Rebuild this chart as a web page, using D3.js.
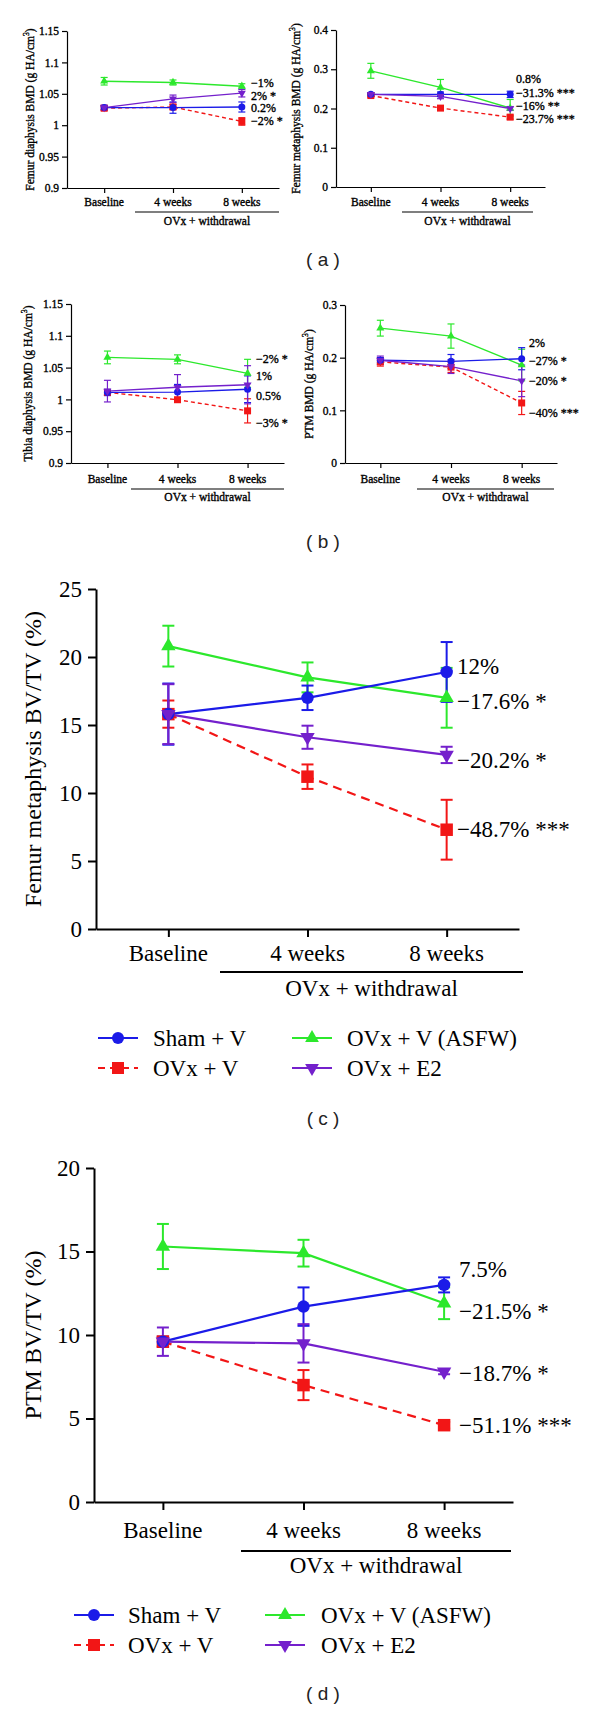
<!DOCTYPE html>
<html><head><meta charset="utf-8">
<script src="https://cdn.jsdelivr.net/npm/d3@7"></script>
<style>body{margin:0;background:#fff}svg{display:block}</style>
</head><body>
<svg id="fig" width="600" height="1709"></svg>
<script>
// ---------- DATA ----------
const timepoints = ["Baseline", "4 weeks", "8 weeks"];
// series order: Sham + V, OVx + V, OVx + V (ASFW), OVx + E2
const groups = ["Sham + V", "OVx + V", "OVx + V (ASFW)", "OVx + E2"];
const groupLabel = "OVx + withdrawal";

// (a) left: femur diaphysis BMD
const femurDiaTicks = [0.9, 0.95, 1, 1.05, 1.1, 1.15];
const femurDiaMeans = [[1.028, 1.028, 1.029], [1.027, 1.029, 1.006], [1.070, 1.068, 1.062], [1.028, 1.042, 1.051]];
const femurDiaErrs  = [[0.003, 0.009, 0.008], [0.003, 0.004, 0.006], [0.006, 0.004, 0.004], [0.004, 0.006, 0.006]];
const femurDiaLabels = ["\u22121%", "2% *", "0.2%", "\u22122% *"];
const femurDiaLabelY = [1.067, 1.046, 1.027, 1.007];

// (a) right: femur metaphysis BMD
const femurMetTicks = [0, 0.1, 0.2, 0.3, 0.4];
const femurMetMeans = [[0.236, 0.236, 0.236], [0.233, 0.201, 0.178], [0.296, 0.254, 0.201], [0.236, 0.231, 0.200]];
const femurMetErrs  = [[0.004, 0.006, 0.008], [0.004, 0.004, 0.005], [0.019, 0.020, 0.022], [0.004, 0.006, 0.005]];
const femurMetLabels = ["0.8%", "\u221231.3% ***", "\u221216% **", "\u221223.7% ***"];
const femurMetLabelY = [0.275, 0.2395, 0.206, 0.173];

// (b) left: tibia diaphysis BMD
const tibiaDiaTicks = [0.9, 0.95, 1, 1.05, 1.1, 1.15];
const tibiaDiaMeans = [[1.011, 1.0115, 1.016], [1.011, 0.9995, 0.982], [1.066, 1.063, 1.041], [1.013, 1.019, 1.023]];
const tibiaDiaErrs  = [[0.005, 0.012, 0.021], [0.004, 0.003, 0.019], [0.010, 0.007, 0.022], [0.017, 0.020, 0.030]];
const tibiaDiaLabels = ["\u22122% *", "1%", "0.5%", "\u22123% *"];
const tibiaDiaLabelY = [1.0635, 1.037, 1.005, 0.963];

// (b) right: PTM BMD
const ptmBmdTicks = [0, 0.1, 0.2, 0.3];
const ptmBmdMeans = [[0.195, 0.193, 0.198], [0.192, 0.182, 0.114], [0.256, 0.241, 0.186], [0.195, 0.183, 0.156]];
const ptmBmdErrs  = [[0.005, 0.013, 0.021], [0.008, 0.010, 0.022], [0.015, 0.023, 0.030], [0.008, 0.013, 0.030]];
const ptmBmdLabels = ["2%", "\u221227% *", "\u221220% *", "\u221240% ***"];
const ptmBmdLabelY = [0.228, 0.194, 0.156, 0.095];

// (c) femur metaphysis BV/TV
const femurBvTicks = [0, 5, 10, 15, 20, 25];
const femurBvMeans = [[15.8, 17.0, 18.9], [15.8, 11.2, 7.3], [20.8, 18.5, 17.0], [15.8, 14.1, 12.8]];
const femurBvErrs  = [[2.25, 0.9, 2.2], [1.0, 0.9, 2.2], [1.5, 1.1, 2.2], [2.2, 0.85, 0.6]];
const femurBvLabels = ["12%", "\u221217.6% *", "\u221220.2% *", "\u221248.7% ***"];
const femurBvLabelY = [19.3, 16.7, 12.4, 7.3];

// (d) PTM BV/TV
const ptmBvTicks = [0, 5, 10, 15, 20];
const ptmBvMeans = [[9.6, 11.7, 13.0], [9.6, 7.0, 4.6], [15.3, 14.9, 11.9], [9.6, 9.5, 7.8]];
const ptmBvErrs  = [[0.3, 1.15, 0.45], [0.3, 0.9, 0.2], [1.35, 0.8, 0.95], [0.85, 1.15, 0.15]];
const ptmBvLabels = ["7.5%", "\u221221.5% *", "\u221218.7% *", "\u221251.1% ***"];
const ptmBvLabelY = [13.9, 11.4, 7.7, 4.6];

// ---------- STYLE ----------
const colors = ["#1b1be8", "#f21616", "#2ce82c", "#7420cc"];
const shapes = ["circle", "square", "triangle", "down"];
const dashed = [false, true, false, false];
const drawOrder = [2, 1, 0, 3];
const serif = "'Liberation Serif', 'Times New Roman', serif";
const sans = "'Liberation Sans', Arial, sans-serif";

const svg = d3.select("#fig");

function symbolPath(shape, s) {
  if (shape === "circle") return d3.symbol(d3.symbolCircle, Math.PI * (s / 2) * (s / 2))();
  if (shape === "square") return d3.symbol(d3.symbolSquare, s * s)();
  const side = s * 1.15;
  return d3.symbol(d3.symbolTriangle, Math.sqrt(3) / 4 * side * side)();
}
function addMarker(g, shape, cx, cy, s, color) {
  g.append("path").attr("d", symbolPath(shape, s))
    .attr("transform", `translate(${cx},${cy})` + (shape === "down" ? " rotate(180)" : ""))
    .attr("fill", color).attr("stroke", "none");
}
function heavy(sel, L) {
  if (L.textStroke) sel.attr("stroke", "#000").attr("stroke-width", L.textStroke);
  return sel;
}

function drawPanel(L, D) {
  const g = svg.append("g");
  const x = d3.scalePoint().domain(timepoints).range([L.x0, L.x1]).padding(L.pad);
  const y = d3.scaleLinear().domain([D.ticks[0], D.ticks[D.ticks.length - 1]]).range([L.yBot, L.yTop]);

  const ya = g.append("g").attr("transform", `translate(${L.x0},0)`)
    .call(d3.axisLeft(y).tickValues(D.ticks).tickFormat(d => String(d))
      .tickSize(L.tick).tickSizeOuter(0).tickPadding(L.tickPad));
  ya.attr("font-family", serif).attr("font-size", L.tickFont);
  heavy(ya.selectAll("text").attr("fill", "#000"), L);

  g.append("g").attr("transform", `translate(0,${L.yBot})`)
    .call(d3.axisBottom(x).tickSize(L.tick).tickSizeOuter(0).tickFormat(""));
  g.selectAll(".domain, .tick line").attr("stroke", "#000").attr("stroke-width", L.axW);

  heavy(g.selectAll("text.xl").data(timepoints).join("text").attr("class", "xl")
    .attr("x", d => x(d)).attr("y", L.xlabY)
    .attr("text-anchor", "middle").attr("dominant-baseline", "central")
    .attr("font-family", serif).attr("font-size", L.tickFont).text(d => d), L);

  // bracket + group label
  const bx1 = L.brX1 || L.x1;
  g.append("line").attr("x1", L.brX0).attr("x2", bx1).attr("y1", L.brY).attr("y2", L.brY)
    .attr("stroke", "#000").attr("stroke-width", L.axW);
  heavy(g.append("text").attr("x", (L.brX0 + bx1) / 2).attr("y", L.grpY)
    .attr("text-anchor", "middle").attr("dominant-baseline", "central")
    .attr("font-family", serif).attr("font-size", L.tickFont).text(groupLabel), L);

  // y title
  const t = heavy(g.append("text")
    .attr("transform", `translate(${L.titleX},${(L.yTop + L.yBot) / 2}) rotate(-90)`)
    .attr("text-anchor", "middle").attr("dominant-baseline", "central")
    .attr("font-family", serif).attr("font-size", L.titleFont), L);
  t.append("tspan").text(D.title);
  if (D.sup) {
    t.append("tspan").attr("dy", -L.titleFont * 0.38).attr("font-size", L.titleFont * 0.68).text("3");
    t.append("tspan").attr("dy", L.titleFont * 0.38).text(")");
  }

  // lines
  drawOrder.forEach(i => {
    const pts = D.means[i].map((v, j) => [x(timepoints[j]), y(v)]);
    g.append("path").attr("d", d3.line()(pts)).attr("fill", "none")
      .attr("stroke", colors[i]).attr("stroke-width", L.lw)
      .attr("stroke-dasharray", dashed[i] ? L.dash : null);
  });
  // error bars
  drawOrder.forEach(i => {
    D.means[i].forEach((v, j) => {
      const cx = x(timepoints[j]);
      const e = D.errs[i][j];
      const yt = y(v + e), yb = y(v - e);
      const c = colors[i];
      g.append("line").attr("x1", cx).attr("x2", cx).attr("y1", yt).attr("y2", yb)
        .attr("stroke", c).attr("stroke-width", L.ew);
      [yt, yb].forEach(yy => g.append("line").attr("x1", cx - L.cap / 2).attr("x2", cx + L.cap / 2)
        .attr("y1", yy).attr("y2", yy).attr("stroke", c).attr("stroke-width", L.ew));
    });
  });
  // markers
  drawOrder.forEach(i => {
    D.means[i].forEach((v, j) => addMarker(g, shapes[i], x(timepoints[j]), y(v), L.ms, colors[i]));
  });

  // percent labels
  D.labels.forEach((s, k) => {
    heavy(g.append("text").attr("x", L.labelX).attr("y", y(D.labelY[k]))
      .attr("dominant-baseline", "central").attr("font-family", serif)
      .attr("font-size", L.labelFont).attr("fill", "#000").text(s), L);
  });
}

function drawLegend(Lg) {
  const pos = [[0, 0], [0, 1], [1, 0], [1, 1]];
  groups.forEach((name, i) => {
    const [c, r] = pos[i];
    const lx = Lg.colX[c], ly = Lg.rowY[r];
    svg.append("line").attr("x1", lx).attr("x2", lx + Lg.len).attr("y1", ly).attr("y2", ly)
      .attr("stroke", colors[i]).attr("stroke-width", Lg.lw)
      .attr("stroke-dasharray", dashed[i] ? Lg.dash : null);
    addMarker(svg, shapes[i], lx + Lg.len / 2, ly, Lg.ms, colors[i]);
    svg.append("text").attr("x", Lg.textX[c]).attr("y", ly).attr("dominant-baseline", "central")
      .attr("font-family", serif).attr("font-size", Lg.font).text(name);
  });
}

function panelTag(txt, cy) {
  svg.append("text").attr("x", 323).attr("y", cy).attr("text-anchor", "middle")
    .attr("dominant-baseline", "central").attr("font-family", sans)
    .attr("font-size", 19).attr("fill", "#222").attr("xml:space", "preserve").text(txt);
}

// ---------- LAYOUT ----------
const small = {tick: 5, tickPad: 3, tickFont: 11.5, titleFont: 11.5, labelFont: 12, axW: 1.2,
  lw: 1.4, ew: 1.2, cap: 7, ms: 7, dash: "4,3", textStroke: 0.35};
const big = {tick: 8, tickPad: 6, tickFont: 23, titleFont: 24, labelFont: 23, axW: 2,
  lw: 2.2, ew: 2, cap: 12, ms: 12.5, dash: "9,6", textStroke: 0};

drawPanel(Object.assign({}, small, {x0: 67, x1: 279, pad: 0.54, yTop: 31, yBot: 188, titleX: 30,
  labelX: 251, xlabY: 202, brX0: 135, brY: 212, grpY: 221}),
  {ticks: femurDiaTicks, means: femurDiaMeans, errs: femurDiaErrs, labels: femurDiaLabels,
   labelY: femurDiaLabelY, title: "Femur diaphysis BMD (g HA/cm", sup: true});
drawPanel(Object.assign({}, small, {x0: 336, x1: 545, pad: 0.5, yTop: 30, yBot: 187, titleX: 296,
  labelX: 516, xlabY: 202, brX0: 402, brX1: 533, brY: 212, grpY: 221}),
  {ticks: femurMetTicks, means: femurMetMeans, errs: femurMetErrs, labels: femurMetLabels,
   labelY: femurMetLabelY, title: "Femur metaphysis BMD (g HA/cm", sup: true});
panelTag("( a )", 259);

drawPanel(Object.assign({}, small, {x0: 71, x1: 284, pad: 0.52, yTop: 304, yBot: 463, titleX: 28,
  labelX: 256, xlabY: 479, brX0: 131, brY: 489, grpY: 497}),
  {ticks: tibiaDiaTicks, means: tibiaDiaMeans, errs: tibiaDiaErrs, labels: tibiaDiaLabels,
   labelY: tibiaDiaLabelY, title: "Tibia diaphysis BMD (g HA/cm", sup: true});
drawPanel(Object.assign({}, small, {x0: 345, x1: 557, pad: 0.5, yTop: 305, yBot: 463, titleX: 309,
  labelX: 529, xlabY: 479, brX0: 417, brX1: 554, brY: 489, grpY: 497}),
  {ticks: ptmBmdTicks, means: ptmBmdMeans, errs: ptmBmdErrs, labels: ptmBmdLabels,
   labelY: ptmBmdLabelY, title: "PTM BMD (g HA/cm", sup: true});
panelTag("( b )", 541);

drawPanel(Object.assign({}, big, {x0: 96, x1: 519, pad: 0.52, yTop: 589, yBot: 929, titleX: 33,
  labelX: 457, xlabY: 953, brX0: 220, brX1: 523, brY: 972, grpY: 988}),
  {ticks: femurBvTicks, means: femurBvMeans, errs: femurBvErrs, labels: femurBvLabels,
   labelY: femurBvLabelY, title: "Femur metaphysis BV/TV (%)", sup: false});
drawLegend({colX: [98, 292], textX: [153, 347], rowY: [1038, 1068], len: 40, lw: 2, ms: 12, dash: "7,5", font: 23});
panelTag("( c )", 1118);

drawPanel(Object.assign({}, big, {x0: 94, x1: 513, pad: 0.49, yTop: 1168, yBot: 1502, titleX: 33,
  labelX: 459, xlabY: 1530, brX0: 241, brX1: 511, brY: 1551, grpY: 1565}),
  {ticks: ptmBvTicks, means: ptmBvMeans, errs: ptmBvErrs, labels: ptmBvLabels,
   labelY: ptmBvLabelY, title: "PTM BV/TV (%)", sup: false});
drawLegend({colX: [74, 265], textX: [128, 321], rowY: [1615, 1645], len: 40, lw: 2, ms: 12, dash: "7,5", font: 23});
panelTag("( d )", 1693);
</script>
</body></html>
